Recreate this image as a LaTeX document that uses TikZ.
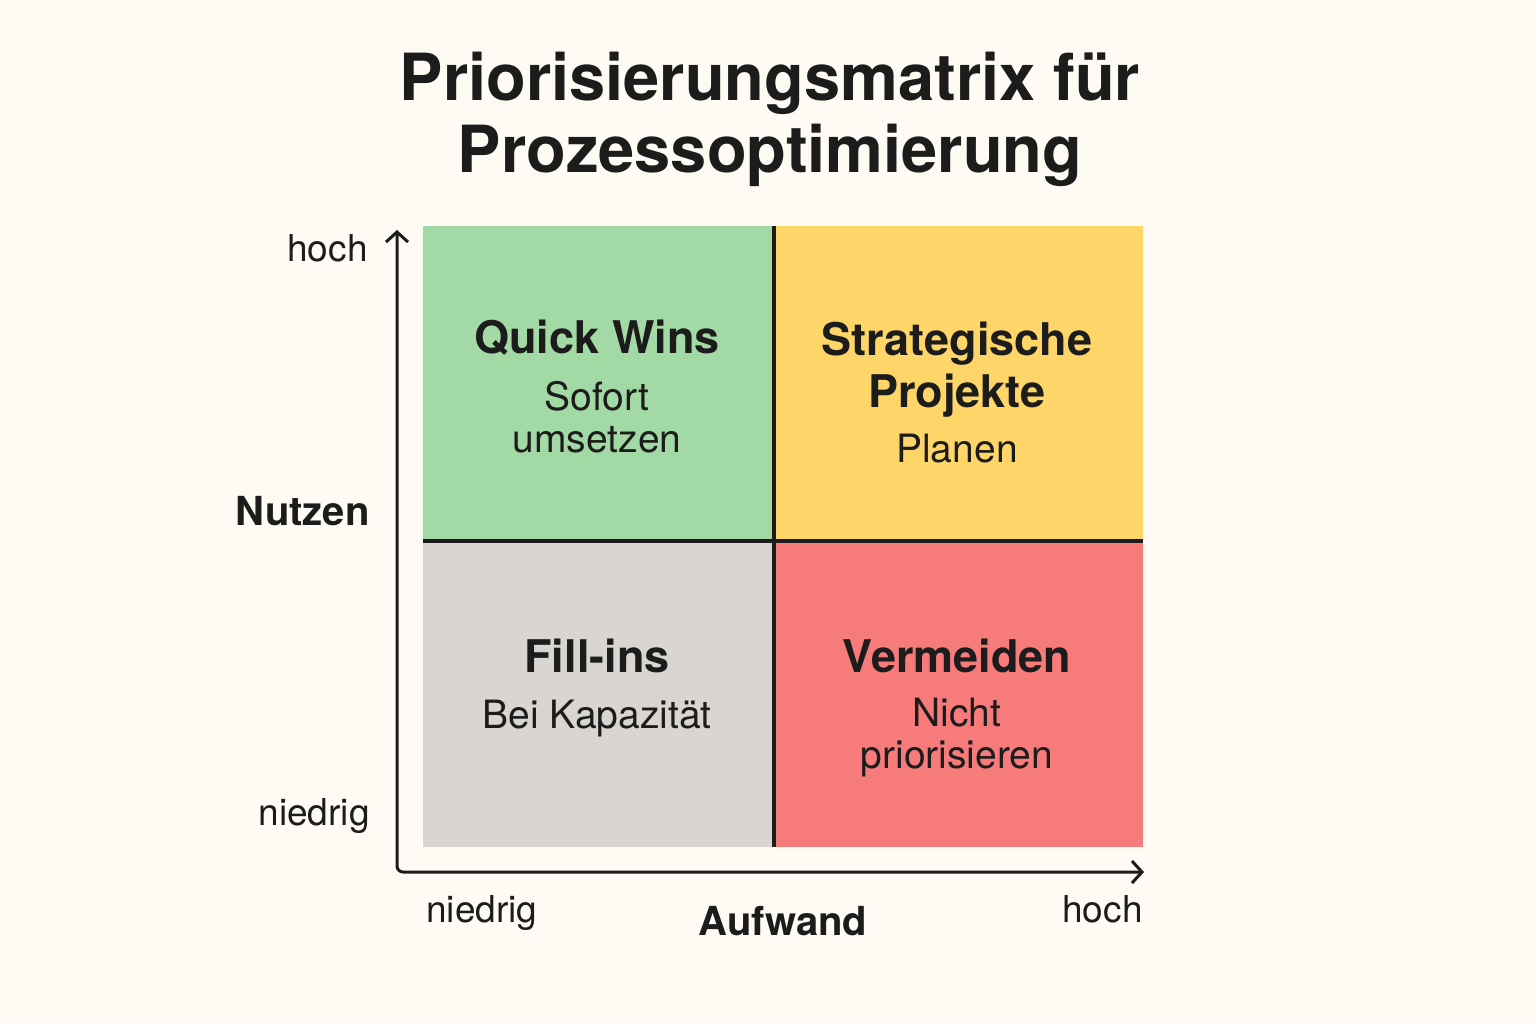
\documentclass[tikz,border=0pt]{standalone}
\usepackage{fontspec}
\setmainfont{TeX Gyre Heros}
\usetikzlibrary{arrows.meta}
\definecolor{paper}{HTML}{FEFBF4}
\definecolor{quickgreen}{HTML}{A3D9A5}
\definecolor{stratyellow}{HTML}{FDD568}
\definecolor{fillgray}{HTML}{D9D6D1}
\definecolor{avoidred}{HTML}{F77B7B}
\definecolor{ink}{HTML}{1C1C1C}
\tikzset{>={Straight Barb[length=5pt,width=11pt]}}
\tikzset{
  head/.style={anchor=base,inner sep=0pt,text=ink,font=\fontsize{22.5}{26}\selectfont\bfseries,align=center},
  sub/.style={anchor=base,inner sep=0pt,text=ink,font=\fontsize{19.5}{21}\selectfont,align=center},
  tick/.style={anchor=base,inner sep=0pt,text=ink,font=\fontsize{18.5}{20}\selectfont},
  axislabel/.style={anchor=base,inner sep=0pt,text=ink,font=\fontsize{20}{22}\selectfont\bfseries},
}

\begin{document}
\begin{tikzpicture}[x=0.5pt,y=-0.5pt]
    \useasboundingbox (0,0) rectangle (1536,1024);
    \fill[paper] (0,0) rectangle (1536,1024);
    \node[anchor=base,inner sep=0pt,text=ink,align=center,font=\fontsize{32.5}{36}\selectfont\bfseries] (title) at (770,172) {Priorisierungsmatrix für\\Prozessoptimierung};
    \fill[quickgreen] (423,226) rectangle (774,541);
    \fill[stratyellow] (774,226) rectangle (1143,541);
    \fill[fillgray] (423,541) rectangle (774,847);
    \fill[avoidred] (774,541) rectangle (1143,847);
    \draw[ink,line width=2pt] (774,226) -- (774,847);
    \draw[ink,line width=2pt] (423,541) -- (1143,541);
    \draw[<->,ink,line width=1.5pt,rounded corners=3pt] (397,230) -- (397,872) -- (1144,872);
    \node[head] (quickhead) at (597,353) {Quick Wins};
    \node[sub] (quicksub) at (597,452) {Sofort\\umsetzen};
    \node[head] (strathead) at (957,407) {Strategische\\Projekte};
    \node[sub] (stratsub) at (957,462) {Planen};
    \node[head] (fillhead) at (597,672) {Fill-ins};
    \node[sub] (fillsub) at (597,728) {Bei Kapazität};
    \node[head] (avoidhead) at (957,672) {Vermeiden};
    \node[sub] (avoidsub) at (957,768) {Nicht\\priorisieren};
    \node[tick,anchor=base east] (yhigh) at (368,261) {hoch};
    \node[axislabel,anchor=base east] (ylabel) at (370,525) {Nutzen};
    \node[tick,anchor=base east] (ylow) at (370,825) {niedrig};
    \node[tick,anchor=base west] (xlow) at (426,922) {niedrig};
    \node[axislabel] (xlabel) at (783,935) {Aufwand};
    \node[tick,anchor=base east] (xhigh) at (1143,922) {hoch};
  \end{tikzpicture}
\end{document}
